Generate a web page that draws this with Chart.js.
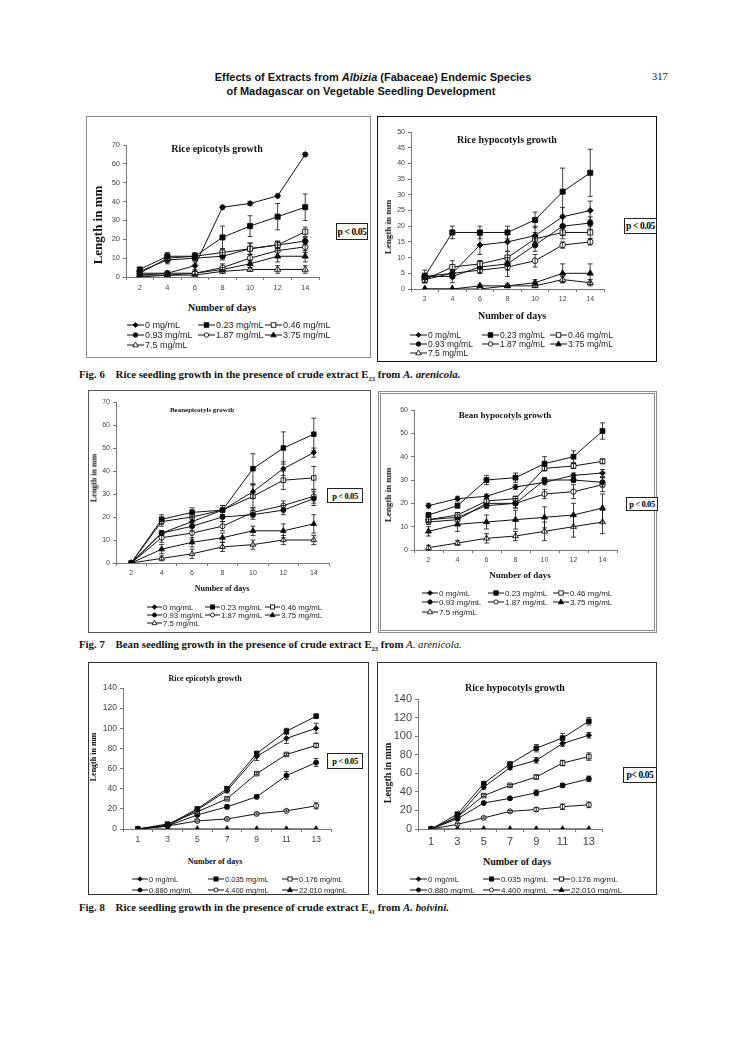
<!DOCTYPE html>
<html>
<head>
<meta charset="utf-8">
<script src="https://cdn.jsdelivr.net/npm/chart.js@4.4.1/dist/chart.umd.min.js"></script>
<style>
  html, body { margin: 0; padding: 0; background: #fff; }
  #page { position: relative; width: 745px; height: 1053px; overflow: hidden; color: #111; }
  .frame { position: absolute; box-sizing: border-box; }
  .box { position: absolute; }
  .c { position: absolute; transform: translate(-50%, -50%); white-space: nowrap; font-family: "Liberation Serif", serif; font-weight: bold; }
  .rot { transform: translate(-50%, -50%) rotate(-90deg); }
  .pbox { position: absolute; box-sizing: border-box; border: 1px solid #222; background: #fff;
          display: flex; align-items: center; justify-content: center; letter-spacing: -0.4px;
          font-family: "Liberation Serif", serif; font-weight: bold; white-space: nowrap; color: #000; }
  .leg { position: absolute; display: flex; align-items: center; white-space: nowrap;
         font-family: "Liberation Sans", Arial, sans-serif; color: #222; }
  .leg svg { display: block; margin-right: 1px; }
  .head { position: absolute; font-family: "Liberation Sans", Arial, sans-serif; font-weight: bold; font-size: 11px;
          white-space: nowrap; transform: translate(-50%, -50%); }
  .cap { position: absolute; font-family: "Liberation Serif", serif; font-weight: bold; font-size: 10.8px; white-space: nowrap; }
</style>
</head>
<body>
<div id="page">
  <div class="head" style="left:373px;top:77px">Effects of Extracts from <i>Albizia</i> (Fabaceae) Endemic Species</div>
  <div class="head" style="left:361px;top:91px">of Madagascar on Vegetable Seedling Development</div>
  <div class="box" style="left:652px;top:71px;font-family:'Liberation Serif',serif;font-size:10.5px">317</div>

  <div class="cap" style="left:79px;top:368px">Fig. 6&nbsp;&nbsp;&nbsp;&nbsp;Rice seedling growth in the presence of crude extract E<sub style="font-size:6.5px">23</sub> from <i>A. arenicola.</i></div>
  <div class="cap" style="left:79px;top:638px">Fig. 7&nbsp;&nbsp;&nbsp;&nbsp;Bean seedling growth in the presence of crude extract E<sub style="font-size:6.5px">23</sub> from <i style="font-weight:normal">A. arenicola.</i></div>
  <div class="cap" style="left:79px;top:901px">Fig. 8&nbsp;&nbsp;&nbsp;&nbsp;Rice seedling growth in the presence of crude extract E<sub style="font-size:6.5px">41</sub> from <i>A. boivini.</i></div>
</div>

<script>
// ---- data ----
const daysE23 = ['2', '4', '6', '8', '10', '12', '14'];
const daysE41 = ['1', '3', '5', '7', '9', '11', '13'];

const dosesE23 = ['0 mg/mL', '0.23 mg/mL', '0.46 mg/mL', '0.93 mg/mL', '1.87 mg/mL', '3.75 mg/mL', '7.5 mg/mL'];
const dosesE41 = ['0 mg/mL', '0.035 mg/mL', '0.176 mg/mL', '0.880 mg/mL', '4.400 mg/mL', '22.010 mg/mL'];

// Fig. 6 left - rice epicotyls (mm)
const fig6EpiLen = [
  [2, 2, 6, 37, 39, 43, 65],
  [4, 11, 11, 21, 27, 32, 37],
  [2, 10, 11, 13, 15, 17, 24],
  [3, 9, 10, 11, 15, 17, 19],
  [1, 2, 2, 5, 10, 14, 16],
  [1, 1, 2, 4, 7, 11, 11],
  [0, 1, 1, 3, 4, 4, 4]
];
const fig6EpiErr = [
  [1, 1, 2, 1, 1, 1, 1],
  [1, 2, 2, 6, 5.5, 7, 7],
  [1, 1, 1, 2, 3, 2, 2.5],
  [0.5, 2, 1, 2, 3, 2, 2],
  [0.5, 1, 1, 2, 2, 3, 3],
  [0.5, 0.5, 1, 1, 2, 3, 3],
  [0.5, 0.5, 0.5, 1, 1, 2, 2]
];

// Fig. 6 right - rice hypocotyls (mm)
const fig6HypoLen = [
  [4, 5, 14, 15, 17, 23, 25],
  [4, 18, 18, 18, 22, 31, 37],
  [3, 7, 8, 10, 16, 18, 18],
  [4, 4, 7, 8, 14, 20, 21],
  [3, 5, 6, 7, 9, 14, 15],
  [0, 0, 1, 1, 2, 5, 5],
  [0, 0, 0, 1, 1, 3, 2]
];
const fig6HypoErr = [
  [1, 1, 3, 3, 3, 3, 3],
  [1, 2, 2, 2, 2.5, 7.5, 7.5],
  [1, 2, 1, 2, 2, 2, 2],
  [2, 2, 2, 2, 2, 3, 2],
  [1, 1, 1, 3, 2, 1, 1],
  [0, 0, 0.5, 0.5, 1, 3, 3],
  [0, 0, 0, 0.5, 0.5, 1, 1]
];

// Fig. 7 left - bean epicotyls (mm)
const fig7EpiLen = [
  [0, 13, 18, 23, 31, 41, 48],
  [0, 19, 22, 23, 41, 50, 56],
  [0, 18, 20, 23, 29, 36, 37],
  [0, 13, 16, 20, 21, 23, 28],
  [0, 11, 13, 16, 22, 25, 29],
  [0, 6, 9, 11, 14, 14, 17],
  [0, 2, 4, 7, 8, 10, 10]
];
const fig7EpiErr = [
  [0, 1, 2, 2, 3, 3, 2],
  [0, 2, 2, 2, 6.5, 7, 7],
  [0, 2, 3, 2, 5, 4, 5],
  [0, 1, 2, 2, 2, 2, 3],
  [0, 2, 3, 2, 2, 2, 3],
  [0, 2, 2, 2, 2, 3, 4],
  [0, 1, 2, 2, 2, 2, 2]
];

// Fig. 7 right - bean hypocotyls (mm)
const fig7HypoLen = [
  [19, 22, 23, 27, 29, 32, 33],
  [15, 19, 30, 31, 37, 40, 51],
  [13, 15, 21, 22, 35, 36, 38],
  [13, 14, 19, 20, 30, 30, 29],
  [12, 13, 20, 20, 24, 25, 28],
  [8, 11, 12, 13, 14, 15, 18],
  [1, 3, 5, 6, 8, 10, 12]
];
const fig7HypoErr = [
  [1, 1, 1, 1, 1, 1, 1.5],
  [1, 1, 2, 2, 3, 2.5, 3.5],
  [1, 1, 1, 1, 1, 1, 1],
  [1, 1, 1, 2, 1, 1, 2],
  [1, 1, 2, 2, 2, 3, 3],
  [2, 3, 3, 4, 4.5, 5, 6],
  [1, 1, 2, 2, 4, 4.5, 5]
];

// Fig. 8 left - rice epicotyls (mm)
const fig8EpiLen = [
  [0, 3, 19, 38, 72, 90, 100],
  [0, 4, 20, 40, 75, 97, 112],
  [0, 5, 17, 30, 55, 74, 83],
  [0, 3, 14, 22, 32, 53, 66],
  [0, 3, 8, 10, 15, 18, 23],
  [0, 0, 0, 0, 0, 0, 0]
];
const fig8EpiErr = [
  [0, 1, 1, 2, 4, 5, 5],
  [0, 1, 1, 2, 2, 3, 2],
  [0, 1, 1, 1, 1, 1, 2],
  [0, 1, 1, 2, 2, 4, 4],
  [0, 0.5, 1, 1, 1, 1, 3],
  [0, 0, 0, 0, 0, 0, 0]
];

// Fig. 8 right - rice hypocotyls (mm)
const fig8HypoLen = [
  [0, 13, 45, 66, 74, 92, 101],
  [0, 16, 49, 70, 87, 98, 116],
  [0, 13, 36, 47, 56, 71, 78],
  [0, 11, 28, 33, 39, 47, 54],
  [0, 5, 12, 19, 21, 24, 26],
  [0, 0, 0, 0, 0, 0, 0]
];
const fig8HypoErr = [
  [0, 1, 2, 2, 3, 3, 3],
  [0, 1, 1, 2, 4, 5, 4],
  [0, 1, 1, 1, 2, 3, 4],
  [0, 1, 1, 1, 3, 2, 3],
  [0, 1, 1, 1, 2, 3, 3],
  [0, 0, 0, 0, 0, 0, 0]
];

// ---- marker styles, one per dose rank ----
const STYLES = [
  { shape: 'rectRot', r: 3, fill: '#000' },
  { shape: 'rect', r: 3.6, fill: '#000' },
  { shape: 'rect', r: 3.6, fill: '#fff' },
  { shape: 'circle', r: 2.8, fill: '#000' },
  { shape: 'circle', r: 2.8, fill: '#fff' },
  { shape: 'triangle', r: 3.6, fill: '#000' },
  { shape: 'triangle', r: 3.6, fill: '#fff' }
];

// ---- panel layout (page pixels) ----
const PANELS = [
  { frame: [86, 116, 285, 242, '1.5px solid #8a8a8a'], plot: [126, 319, 145, 277],
    labels: daysE23, values: fig6EpiLen, errs: fig6EpiErr, names: dosesE23,
    yMax: 70, yStep: 10, tick: 7.5, mk: 1,
    title: ['Rice epicotyls growth', 217, 148, 10], ytitle: [98, 225, 13], xtitle: [222, 307, 10],
    pbox: [336, 223, 32, 17, 9.5, 'p < 0.05'],
    leg: { cols: [127, 198, 265], rows: [325, 335, 345], fs: 9, gw: 17 } },
  { frame: [377, 116, 280, 246, '1.5px solid #111'], plot: [411, 604, 132, 289],
    labels: daysE23, values: fig6HypoLen, errs: fig6HypoErr, names: dosesE23,
    yMax: 50, yStep: 5, tick: 7, mk: 1,
    title: ['Rice hypocotyls growth', 507, 139, 10], ytitle: [388, 227, 9], xtitle: [512, 315, 10],
    pbox: [624, 218, 33, 16, 9.5, 'p < 0.05'],
    leg: { cols: [410, 482, 550], rows: [335, 344, 353], fs: 8.5, gw: 17 } },
  { frame: [88, 390, 283, 243, '1.5px solid #555'], plot: [116, 329, 402, 563],
    labels: daysE23, values: fig7EpiLen, errs: fig7EpiErr, names: dosesE23,
    yMax: 70, yStep: 10, tick: 7, mk: 0.9,
    title: ['Beanepicotyls growth', 202, 410, 7], ytitle: [94, 478, 8], xtitle: [222, 588, 8],
    pbox: [327, 488, 36, 15, 8.5, 'p < 0.05'],
    leg: { cols: [147, 205, 265], rows: [607, 615, 623], fs: 7.8, gw: 15 } },
  { frame: [378, 391, 279, 242, '3px double #8a8a8a'], plot: [414, 617, 410, 550],
    labels: daysE23, values: fig7HypoLen, errs: fig7HypoErr, names: dosesE23,
    yMax: 60, yStep: 10, tick: 7, mk: 0.95,
    title: ['Bean hypocotyls growth', 505, 415, 9], ytitle: [388, 495, 9], xtitle: [520, 575, 9],
    pbox: [626, 497, 32, 14, 8.5, 'p < 0.05'],
    leg: { cols: [422, 488, 553], rows: [593, 602, 612], fs: 8, gw: 16 } },
  { frame: [88, 662, 281, 233, '1.5px solid #333'], plot: [123, 331, 688, 829],
    labels: daysE41, values: fig8EpiLen, errs: fig8EpiErr, names: dosesE41,
    yMax: 140, yStep: 20, tick: 8.5, mk: 0.9,
    title: ['Rice epicotyls growth', 205, 678, 8], ytitle: [93, 757, 8], xtitle: [215, 861, 8],
    pbox: [327, 753, 36, 16, 8.5, 'p < 0.05'],
    leg: { cols: [132, 208, 282], rows: [879, 890], fs: 7.5, gw: 16 } },
  { frame: [377, 662, 280, 233, '1.5px solid #333'], plot: [418, 602, 699, 829],
    labels: daysE41, values: fig8HypoLen, errs: fig8HypoErr, names: dosesE41,
    yMax: 140, yStep: 20, tick: 11, mk: 0.9,
    title: ['Rice hypocotyls growth', 515, 687, 10], ytitle: [387, 773, 10], xtitle: [517, 861, 10],
    pbox: [623, 767, 34, 16, 9.5, 'p< 0.05'],
    leg: { cols: [410, 483, 553], rows: [879, 890], fs: 8, gw: 17 } }
];

const page = document.getElementById('page');

// vertical error bars from dataset.err, drawn through the y scale
const errorBars = {
  id: 'errorBars',
  afterDatasetsDraw(chart) {
    const ctx = chart.ctx, y = chart.scales.y;
    ctx.save();
    ctx.strokeStyle = '#111';
    ctx.lineWidth = 0.8;
    chart.data.datasets.forEach((ds, i) => {
      if (!ds.err) return;
      chart.getDatasetMeta(i).data.forEach((pt, j) => {
        const e = ds.err[j];
        if (!e) return;
        const v = ds.data[j];
        const top = y.getPixelForValue(v + e);
        const bot = y.getPixelForValue(Math.max(0, v - e));
        ctx.beginPath();
        ctx.moveTo(pt.x, top); ctx.lineTo(pt.x, bot);
        ctx.moveTo(pt.x - 2.5, top); ctx.lineTo(pt.x + 2.5, top);
        ctx.moveTo(pt.x - 2.5, bot); ctx.lineTo(pt.x + 2.5, bot);
        ctx.stroke();
      });
    });
    ctx.restore();
  }
};

function glyph(st, w, k) {
  const cx = w / 2, cy = 5, r = st.r * k * 0.85;
  let m;
  if (st.shape === 'rectRot') {
    m = `<polygon points="${cx},${cy - r} ${cx + r},${cy} ${cx},${cy + r} ${cx - r},${cy}"/>`;
  } else if (st.shape === 'rect') {
    const s = r * 0.75;
    m = `<rect x="${cx - s}" y="${cy - s}" width="${2 * s}" height="${2 * s}"/>`;
  } else if (st.shape === 'circle') {
    m = `<circle cx="${cx}" cy="${cy}" r="${r * 0.95}"/>`;
  } else {
    m = `<polygon points="${cx},${cy - r} ${cx + r * 0.9},${cy + r * 0.6} ${cx - r * 0.9},${cy + r * 0.6}"/>`;
  }
  return `<svg width="${w}" height="10"><line x1="0" y1="5" x2="${w}" y2="5" stroke="#111" stroke-width="1"/>` +
         `<g fill="${st.fill}" stroke="#111" stroke-width="0.9">${m}</g></svg>`;
}

function addText(cls, x, y, size, text) {
  const d = document.createElement('div');
  d.className = cls;
  d.style.left = x + 'px';
  d.style.top = y + 'px';
  d.style.fontSize = size + 'px';
  d.textContent = text;
  page.appendChild(d);
  return d;
}

PANELS.forEach(p => {
  // frame
  const f = document.createElement('div');
  f.className = 'frame';
  Object.assign(f.style, { left: p.frame[0] + 'px', top: p.frame[1] + 'px',
    width: p.frame[2] + 'px', height: p.frame[3] + 'px', border: p.frame[4] });
  page.appendChild(f);

  // canvas box so that the chart area lands on the plot rectangle
  const yW = 34, padT = 10, padR = 8, xH = 24;
  const [pl, pr, pt, pb] = p.plot;
  const box = document.createElement('div');
  box.className = 'box';
  const w = yW + (pr - pl) + padR, h = padT + (pb - pt) + xH;
  Object.assign(box.style, { left: (pl - yW) + 'px', top: (pt - padT) + 'px', width: w + 'px', height: h + 'px' });
  const cv = document.createElement('canvas');
  box.appendChild(cv);
  page.appendChild(box);

  const datasets = p.values.map((vals, i) => {
    const st = STYLES[i];
    return {
      label: p.names[i],
      data: vals,
      err: p.errs[i],
      borderColor: '#111',
      borderWidth: 1,
      tension: 0,
      pointStyle: st.shape,
      pointRadius: st.r * p.mk,
      pointBackgroundColor: st.fill,
      pointBorderColor: '#111',
      pointBorderWidth: 0.9
    };
  });

  const tickFont = { family: 'Liberation Sans', size: p.tick };
  new Chart(cv, {
    type: 'line',
    data: { labels: p.labels, datasets },
    options: {
      responsive: true,
      maintainAspectRatio: false,
      animation: false,
      layout: { padding: { left: 0, top: padT, right: padR, bottom: 0 } },
      plugins: { legend: { display: false }, tooltip: { enabled: false } },
      scales: {
        x: {
          type: 'category',
          offset: true,
          grid: { drawOnChartArea: false, offset: true, tickLength: 3, color: '#777' },
          border: { color: '#777', width: 1 },
          ticks: { font: tickFont, color: '#444', padding: 3, maxRotation: 0, autoSkip: false },
          afterFit(s) { s.height = xH; }
        },
        y: {
          min: 0,
          max: p.yMax,
          grid: { drawOnChartArea: false, tickLength: 3, color: '#777' },
          border: { color: '#777', width: 1 },
          ticks: { font: tickFont, color: '#444', padding: 3, stepSize: p.yStep },
          afterFit(s) { s.width = yW; }
        }
      }
    },
    plugins: [errorBars]
  });

  // texts
  addText('c', p.title[1], p.title[2], p.title[3], p.title[0]);
  addText('c rot', p.ytitle[0], p.ytitle[1], p.ytitle[2], 'Length in mm');
  addText('c', p.xtitle[0], p.xtitle[1], p.xtitle[2], 'Number of days');

  const pbx = document.createElement('div');
  pbx.className = 'pbox';
  Object.assign(pbx.style, { left: p.pbox[0] + 'px', top: p.pbox[1] + 'px', width: p.pbox[2] + 'px',
    height: p.pbox[3] + 'px', fontSize: p.pbox[4] + 'px' });
  pbx.textContent = p.pbox[5];
  page.appendChild(pbx);

  // legend, three columns
  p.names.forEach((name, i) => {
    const col = i % 3, row = Math.floor(i / 3);
    const d = document.createElement('div');
    d.className = 'leg';
    Object.assign(d.style, { left: p.leg.cols[col] + 'px', top: (p.leg.rows[row] - 5) + 'px', fontSize: p.leg.fs + 'px', height: '10px' });
    d.innerHTML = glyph(STYLES[i], p.leg.gw, p.mk);
    const s = document.createElement('span');
    s.textContent = name;
    d.appendChild(s);
    page.appendChild(d);
  });
});
</script>
</body>
</html>
